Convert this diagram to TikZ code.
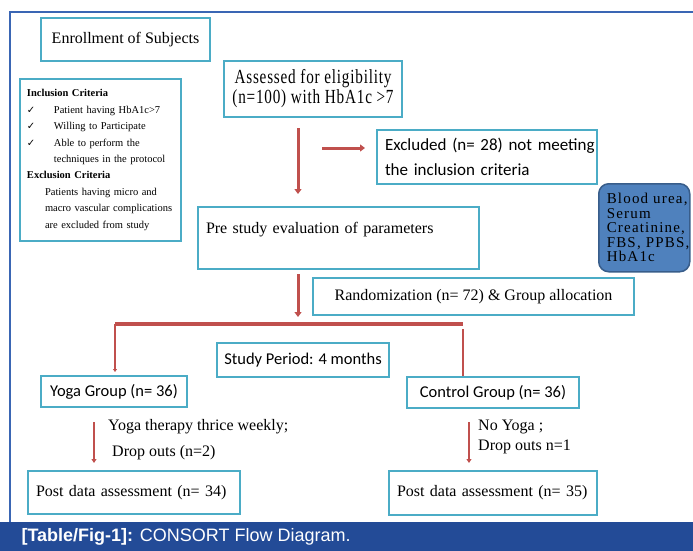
\documentclass[tikz,border=0pt]{standalone}
\usepackage{fontspec}
\setmainfont{Liberation Serif}
\newfontfamily\calibri{Carlito}
\newfontfamily\capfont{Liberation Sans}
\newfontfamily\narrowserif[FakeStretch=0.76,LetterSpace=4]{Liberation Serif}
\newfontfamily\spacedserif[LetterSpace=8]{Liberation Serif}
\newfontfamily\symfont{DejaVu Sans}
\usepackage{tikz}
\usetikzlibrary{positioning,calc,arrows.meta}
\definecolor{boxcyan}{HTML}{4BACC6}
\definecolor{redline}{HTML}{C0504D}
\definecolor{framecol}{HTML}{3A66B4}
\definecolor{capblue}{HTML}{234B97}
\definecolor{bluefill}{HTML}{4F81BD}
\definecolor{bluedraw}{HTML}{385D8A}
\tikzstyle{box} = [draw=boxcyan, line width=2pt, anchor=north west, inner sep=0pt]
\tikzstyle{arrow} = [draw=redline, line width=3pt, -{Triangle[width=7pt,length=5pt]}]
\tikzstyle{smallarrow} = [draw=redline, line width=2.5pt, -{Triangle[width=5pt,length=4pt]}]
\tikzstyle{branch} = [draw=redline, line width=2pt]
\tikzstyle{note} = [anchor=west, inner sep=0pt, font=\fontsize{16}{19}\selectfont]
\newcommand{\chkmark}{\makebox[27pt][l]{\symfont\fontsize{10}{10}\selectfont ✓}}

\begin{document}
\begin{tikzpicture}[x=1pt, y=-1pt]
        \useasboundingbox (0,0) rectangle (693,551);
        \draw[framecol, line width=1.5pt] (10,522) -- (10,12) -- (693,12);
        \fill[capblue] (0,522) rectangle (693,551);
        \node[anchor=west, text=white, font=\capfont\fontsize{18}{20}\selectfont] (caption) at (18,537) {\textbf{[Table/Fig-1]:} CONSORT Flow Diagram.};

        \node[box, minimum width=169pt, minimum height=43pt, font=\fontsize{16}{19}\selectfont] (enroll) at (40,17) {Enrollment of Subjects};
        \node[box, text width=147pt, inner xsep=7pt, minimum height=162pt, align=left, font=\fontsize{10.5}{16.4}\selectfont] (criteria) at (19,78) {\textbf{Inclusion Criteria}\\
                \chkmark Patient having HbA1c>7\\
                \chkmark Willing to Participate\\
                \chkmark Able to perform the\\
                \hspace*{27pt}techniques in the protocol\\
                \textbf{Exclusion Criteria}\\
                \hspace*{18pt}Patients having micro and\\
                \hspace*{18pt}macro vascular complications\\
                \hspace*{18pt}are excluded from study};
        \node[box, minimum width=178pt, minimum height=56pt, align=center, font=\narrowserif\fontsize{20}{20}\selectfont] (assessed) at (223,60) {Assessed for eligibility\\(n=100) with HbA1c >7};
        \node[box, text width=204pt, inner xsep=8pt, minimum height=54pt, align=left, font=\calibri\fontsize{17}{25}\selectfont] (excluded) at (376,129) {\mbox{Excluded (n= 28) not meeting}\\\mbox{the inclusion criteria}};
        \node[box, draw=bluedraw, fill=bluefill, line width=1.5pt, rounded corners=10pt, text width=75pt, inner xsep=8pt, minimum height=88pt, align=left, font=\spacedserif\fontsize{15}{14.5}\selectfont] (labs) at (598,183) {Blood~urea,\\Serum\\Creatinine,\\FBS,~PPBS,\\HbA1c};
        \node[box, text width=265pt, inner xsep=8pt, text height=26pt, text depth=36pt, align=left, font=\fontsize{16}{19}\selectfont] (prestudy) at (197,206) {Pre study evaluation of parameters};
        \node[box, minimum width=321pt, minimum height=37pt, font=\fontsize{16}{19}\selectfont] (random) at (312,277) {Randomization (n= 72) \& Group allocation};
        \node[box, minimum width=172pt, minimum height=34pt, font=\calibri\fontsize{16.5}{19}\selectfont] (period) at (216,342) {Study Period: 4 months};
        \node[box, minimum width=146pt, minimum height=31pt, font=\calibri\fontsize{16.5}{19}\selectfont] (yoga) at (40,375) {Yoga Group (n= 36)};
        \node[box, minimum width=172pt, minimum height=31pt, font=\calibri\fontsize{16.5}{19}\selectfont] (control) at (406,376) {Control Group (n= 36)};
        \node[box, text width=196pt, inner xsep=8pt, minimum height=43pt, align=left, font=\fontsize{16}{19}\selectfont] (postyoga) at (27,470) {\mbox{Post data assessment (n= 34)}};
        \node[box, text width=192pt, inner xsep=8pt, minimum height=44pt, align=left, font=\fontsize{16}{19}\selectfont] (postcontrol) at (388,470) {\mbox{Post data assessment (n= 35)}};

        \node[note] (yogatxt) at (108,427) {Yoga therapy thrice weekly;};
        \node[note] (yogadrop) at (112,453) {Drop outs (n=2)};
        \node[note] (ctrltxt) at (478,427) {No Yoga ;};
        \node[note] (ctrldrop) at (478,447) {Drop outs n=1};

        \coordinate (split) at (298,323);
        \coordinate (barL) at (115,324);
        \coordinate (barR) at (463,324);
        \coordinate (dropL) at (94,422);
        \coordinate (dropR) at (469,422);

        \draw[arrow] ([yshift=-10pt]assessed.south -| split) -- ([yshift=12pt]prestudy.north -| split);
        \draw[arrow] ([xshift=-54pt,yshift=9pt]excluded.west) -- ([xshift=-11pt,yshift=9pt]excluded.west);
        \draw[arrow] ([yshift=-4pt]prestudy.south -| split) -- ([yshift=-1pt]random.south -| split);
        \draw[redline, line width=4pt] (barL) -- (barR);
        \draw[branch, -{Triangle[width=4pt,length=3pt]}] (barL) -- ([yshift=3pt]yoga.north -| barL);
        \draw[branch] ([yshift=-5pt]barR) -- (control.north -| barR);
        \draw[smallarrow] (dropL) -- ([yshift=7pt]postyoga.north -| dropL);
        \draw[smallarrow, line width=1.5pt] (dropR) -- ([yshift=7pt]postcontrol.north -| dropR);
        % \draw[redline] (split) -- (random.west);
\end{tikzpicture}
\end{document}
